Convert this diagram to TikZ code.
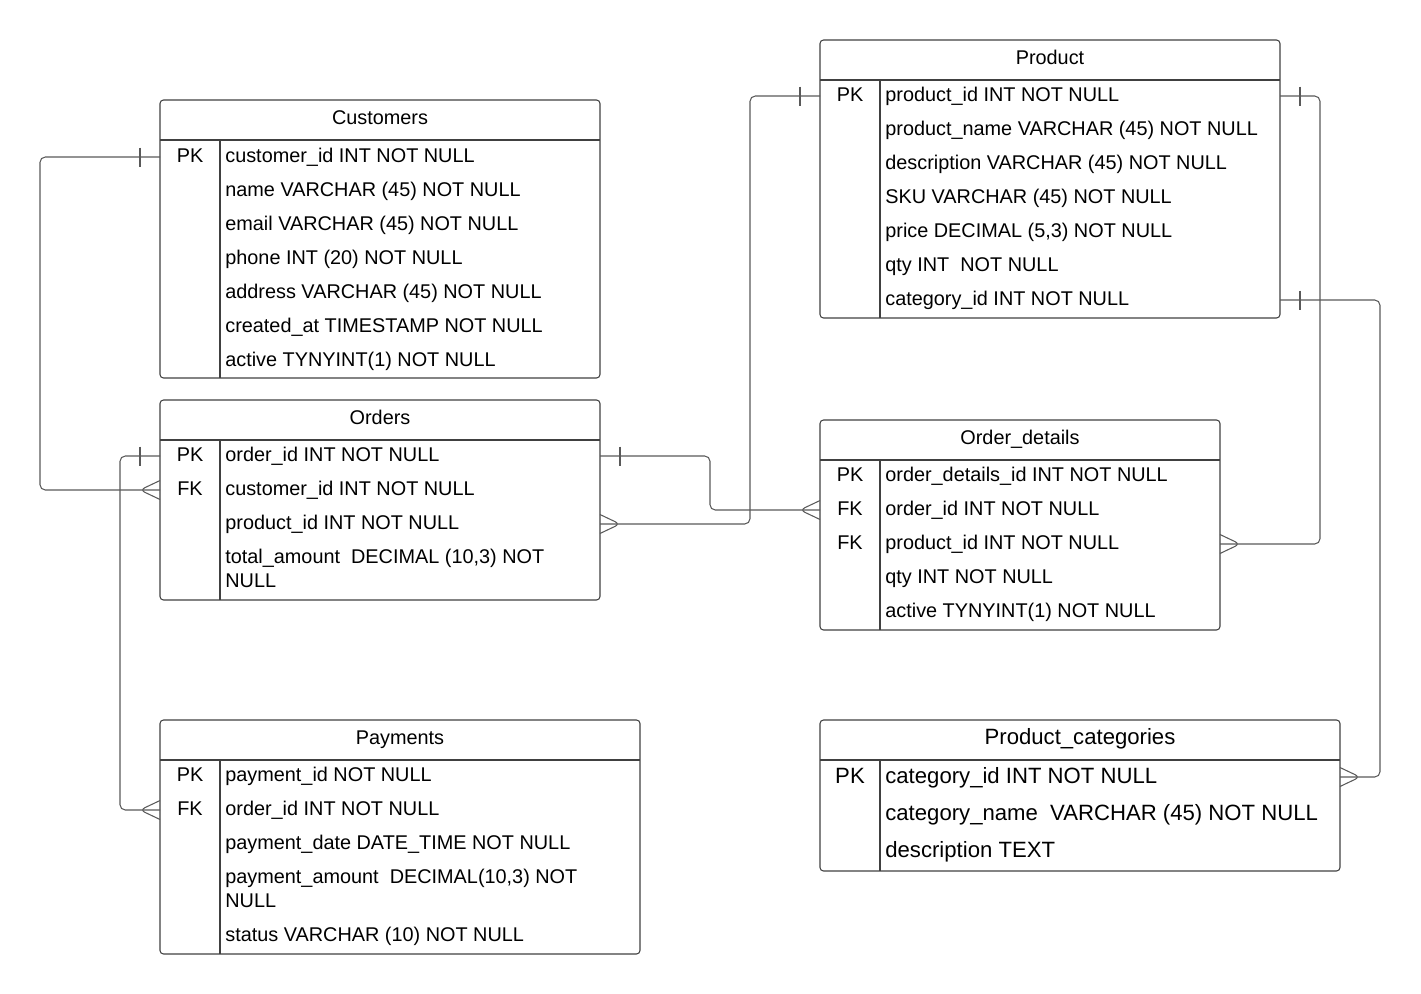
\documentclass[tikz,border=0pt]{standalone}
\usepackage{fontspec}
\setmainfont{Liberation Sans}
\usetikzlibrary{calc,positioning,fit}

\begin{document}
\begin{tikzpicture}[x=0.02cm,y=-0.02cm]

\tikzset{tablebox/.style={draw=black!75,line width=0.6pt,rounded corners=2pt,inner sep=0,outer sep=0},
tableline/.style={draw=black!75,line width=0.6pt},
rowtext/.style={anchor=west,inner sep=0,text height=8pt,text depth=2pt,font=\fontsize{11.3}{13.6}\selectfont},
rowwrap/.style={anchor=north west,inner sep=0,align=left,font=\fontsize{11.3}{13.6}\selectfont},
keytext/.style={inner sep=0,text height=8pt,text depth=2pt,font=\fontsize{11.3}{13.6}\selectfont},
bigtext/.style={font=\fontsize{12.6}{15}\selectfont,text height=9pt},
rel/.style={draw=black!65,line width=0.6pt,rounded corners=3pt},
one/.pic={\draw[rel] (-20,-9.5) -- (-20,9.5);},
many/.pic={\draw[rel] (0,-9.5) -- (-20,0) -- (0,9.5);}}

\useasboundingbox (0,0) rectangle (1421,994);

% Customers
\node[tablebox,fit={(160,100) (600,378)}] (customers) {};
\draw[tableline] ($(customers.north west)+(0,40)$) -- ($(customers.north east)+(0,40)$)
  ($(customers.north west)+(60,40)$) -- ($(customers.south west)+(60,0)$);
\node[keytext] (custtitle) at ($(customers.north)+(0,19)$) {Customers};
\node[keytext] (custpk) at (190,157) {PK};
\foreach \i/\txt in {1/{customer\_id INT NOT NULL}, 2/{name VARCHAR (45) NOT NULL},
  3/{email VARCHAR (45) NOT NULL}, 4/{phone INT (20) NOT NULL},
  5/{address VARCHAR (45) NOT NULL}, 6/{created\_at TIMESTAMP NOT NULL},
  7/{active TYNYINT(1) NOT NULL}}
  \node[rowtext] (cust\i) at (225,{123+34*\i}) {\txt};

% Orders
\node[tablebox,fit={(160,400) (600,600)}] (orders) {};
\draw[tableline] ($(orders.north west)+(0,40)$) -- ($(orders.north east)+(0,40)$)
  ($(orders.north west)+(60,40)$) -- ($(orders.south west)+(60,0)$);
\node[keytext] (ordtitle) at ($(orders.north)+(0,19)$) {Orders};
\node[keytext] (ordpk) at (190,456) {PK};
\node[keytext] (ordfk) at (190,490) {FK};
\foreach \i/\txt in {1/{order\_id INT NOT NULL}, 2/{customer\_id INT NOT NULL},
  3/{product\_id INT NOT NULL}}
  \node[rowtext] (ord\i) at (225,{422+34*\i}) {\txt};
\node[rowwrap] (ord4) at (225,549) {total\_amount~ DECIMAL (10,3) NOT\\NULL};

% Payments
\node[tablebox,fit={(160,720) (640,954)}] (payments) {};
\draw[tableline] ($(payments.north west)+(0,40)$) -- ($(payments.north east)+(0,40)$)
  ($(payments.north west)+(60,40)$) -- ($(payments.south west)+(60,0)$);
\node[keytext] (paytitle) at ($(payments.north)+(0,19)$) {Payments};
\node[keytext] (paypk) at (190,776) {PK};
\node[keytext] (payfk) at (190,810) {FK};
\foreach \i/\txt in {1/{payment\_id NOT NULL}, 2/{order\_id INT NOT NULL},
  3/{payment\_date DATE\_TIME NOT NULL}}
  \node[rowtext] (pay\i) at (225,{742+34*\i}) {\txt};
\node[rowwrap] (pay4) at (225,869) {payment\_amount~ DECIMAL(10,3) NOT\\NULL};
\node[rowtext] (pay5) at (225,936) {status VARCHAR (10) NOT NULL};

% Product
\node[tablebox,fit={(820,40) (1280,318)}] (product) {};
\draw[tableline] ($(product.north west)+(0,40)$) -- ($(product.north east)+(0,40)$)
  ($(product.north west)+(60,40)$) -- ($(product.south west)+(60,0)$);
\node[keytext] (prodtitle) at ($(product.north)+(0,19)$) {Product};
\node[keytext] (prodpk) at (850,96) {PK};
\foreach \i/\txt in {1/{product\_id INT NOT NULL}, 2/{product\_name VARCHAR (45) NOT NULL},
  3/{description VARCHAR (45) NOT NULL}, 4/{SKU VARCHAR (45) NOT NULL},
  5/{price DECIMAL (5,3) NOT NULL}, 6/{qty INT~ NOT NULL},
  7/{category\_id INT NOT NULL}}
  \node[rowtext] (prod\i) at (885,{62+34*\i}) {\txt};

% Order details
\node[tablebox,fit={(820,420) (1220,630)}] (orderdet) {};
\draw[tableline] ($(orderdet.north west)+(0,40)$) -- ($(orderdet.north east)+(0,40)$)
  ($(orderdet.north west)+(60,40)$) -- ($(orderdet.south west)+(60,0)$);
\node[keytext] (odtitle) at ($(orderdet.north)+(0,19)$) {Order\_details};
\foreach \i/\k in {1/PK, 2/FK, 3/FK}
  \node[keytext] (odkey\i) at (850,{442+34*\i}) {\k};
\foreach \i/\txt in {1/{order\_details\_id INT NOT NULL}, 2/{order\_id INT NOT NULL},
  3/{product\_id INT NOT NULL}, 4/{qty INT NOT NULL},
  5/{active TYNYINT(1) NOT NULL}}
  \node[rowtext] (od\i) at (885,{442+34*\i}) {\txt};

% Product categories
\node[tablebox,fit={(820,720) (1340,871)}] (categories) {};
\draw[tableline] ($(categories.north west)+(0,40)$) -- ($(categories.north east)+(0,40)$)
  ($(categories.north west)+(60,40)$) -- ($(categories.south west)+(60,0)$);
\node[keytext,bigtext] (cattitle) at ($(categories.north)+(0,18)$) {Product\_categories};
\node[keytext,bigtext] (catpk) at (850,777) {PK};
\foreach \i/\txt in {1/{category\_id INT NOT NULL}, 2/{category\_name~ VARCHAR (45) NOT NULL},
  3/{description TEXT}}
  \node[rowtext,bigtext] (cat\i) at (885,{740+37*\i}) {\txt};

%% Relationships
\draw[rel] (customers.west |- cust1) -- ++(-120,0) |- (orders.west |- ord2);
\draw[rel] (orders.west |- ord1) -- ++(-40,0) |- (payments.west |- pay2);
\draw[rel] (orders.east |- ord1) -- ++(110,0) |- (orderdet.west |- od2);
\draw[rel] (orders.east |- ord3) -- ++(150,0) |- (product.west |- prod1);
\draw[rel] (product.east |- prod1) -- ++(40,0) |- (orderdet.east |- od3);
\draw[rel] (product.east |- prod7) -- ++(100,0) |- (categories.east |- cat1);

% Cardinality marks
\foreach \p/\m/\f in {customers.west |- cust1/one/1, orders.west |- ord2/many/1,
  orders.west |- ord1/one/1, payments.west |- pay2/many/1,
  orders.east |- ord1/one/-1, orderdet.west |- od2/many/1,
  orders.east |- ord3/many/-1, product.west |- prod1/one/1,
  product.east |- prod1/one/-1, orderdet.east |- od3/many/-1,
  product.east |- prod7/one/-1, categories.east |- cat1/many/-1}
  \pic[xscale=\f] at (\p) {\m};
\end{tikzpicture}
\end{document}
